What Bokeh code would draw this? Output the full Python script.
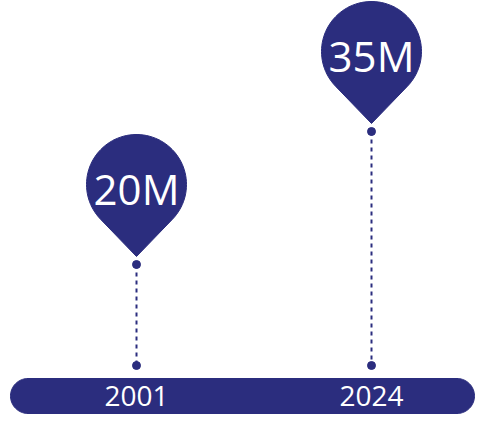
import numpy as np
from bokeh.plotting import figure
from bokeh.models import Range1d, ColumnDataSource
from bokeh.core.properties import value
from bokeh.embed import file_html
from bokeh.resources import INLINE

# ---- data ----
years = [2001, 2024]
values = [20, 35]
value_labels = ["20M", "35M"]
year_labels = ["2001", "2024"]

# ---- layout (figure pixels) ----
NAVY = "#2b2d7e"
W, H = 476, 417
X_A, X_B = 136, 371          # pixel x of the two years
Y_A, Y_B = 264, 131          # pixel y of the two values
sx = (X_B - X_A) / (years[1] - years[0])
sy = (Y_A - Y_B) / (values[1] - values[0])
x0 = years[0] - X_A / sx
x1 = x0 + W / sx
y1 = values[0] + Y_A / sy
y0 = y1 - H / sy


def px_x(px):
    return x0 + px / sx


def px_y(py):
    return y1 - py / sy


p = figure(width=W, height=H, x_range=Range1d(x0, x1), y_range=Range1d(y0, y1),
           output_backend="svg", toolbar_location=None, min_border=0)
p.axis.visible = False
p.grid.visible = False
p.outline_line_color = None
p.background_fill_color = "white"
p.border_fill_color = "white"

# ---- baseline bar with rounded ends ----
bl, br, bt, bb = 10, 474, 378, 413
r = (bb - bt) / 2
cy = (bt + bb) / 2
a = np.linspace(np.pi / 2, 3 * np.pi / 2, 40)
left = [(bl + r + r * np.cos(t), cy - r * np.sin(t)) for t in a]
a2 = np.linspace(-np.pi / 2, np.pi / 2, 40)
right = [(br - r + r * np.cos(t), cy - r * np.sin(t)) for t in a2]
pts = left + right
p.patch([px_x(u) for u, _ in pts], [px_y(v) for _, v in pts],
        fill_color=NAVY, line_color=NAVY)

# ---- stems and dots ----
BOTTOM_DOT = 365
bottom = [px_y(BOTTOM_DOT)] * len(years)
p.segment(x0=years, y0=values, x1=years, y1=bottom, line_color=NAVY,
          line_width=2, line_dash="4 4")
p.scatter(x=years + years, y=values + bottom, size=8, color=NAVY)

# ---- pins ----
R, D, GAP = 50, 72, 8
theta = np.arccos(R / D)
arc = np.linspace(-np.pi / 2 + theta, 3 * np.pi / 2 - theta, 80)
xs, ys = [], []
for yr, v in zip(years, values):
    cval = v + (GAP + D) / sy
    ox = [0.0] + [R * np.cos(t) for t in arc]
    oy = [-D] + [R * np.sin(t) for t in arc]
    xs.append([yr + o / sx for o in ox])
    ys.append([cval + o / sy for o in oy])
p.patches(xs, ys, fill_color=NAVY, line_color=NAVY)

src = ColumnDataSource(dict(x=years, y=[v + (GAP + D - 4) / sy for v in values],
                            t=value_labels))
p.text(x="x", y="y", text="t", source=src, text_color="white",
       text_font=value("Open Sans"), text_font_size="42px",
       text_align="center", text_baseline="middle")

ysrc = ColumnDataSource(dict(x=years, y=[px_y(395)] * len(years), t=year_labels))
p.text(x="x", y="y", text="t", source=ysrc, text_color="white",
       text_font=value("Open Sans"), text_font_size="28px",
       text_align="center", text_baseline="middle")

open("out.html", "w").write(file_html(p, INLINE))
